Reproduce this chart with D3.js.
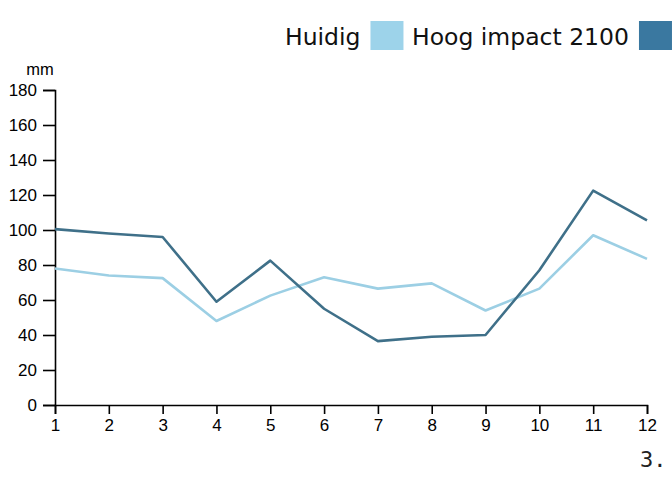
<!DOCTYPE html>
<html><head><meta charset="utf-8">
<script src="https://cdn.jsdelivr.net/npm/d3@7"></script>
<style>body{margin:0;background:#fff}svg{display:block}</style>
</head><body>
<svg id="c" width="672" height="478"></svg>
<script>
const months = [1,2,3,4,5,6,7,8,9,10,11,12];
const huidig = [78,74,72.5,48,62.5,73,66.5,69.5,54,66.5,97,83.5];
const hoog2100 = [100.5,98,96,59,82.5,55,36.5,39,40,77,122.5,105.5];
const yTicks = [0,20,40,60,80,100,120,140,160,180];
const seriesNames = ["Huidig","Hoog impact 2100"];
const unitLabel = "mm";
const pageLabel = "3.";

const svg = d3.select("#c");
const x = d3.scaleLinear().domain([1,12]).range([55,647]);
const y = d3.scaleLinear().domain([0,180]).range([405,90]);

const yAxis = svg.append("g").attr("transform","translate(55,0)")
  .call(d3.axisLeft(y).tickValues(yTicks).tickSize(12).tickPadding(6));
const xAxis = svg.append("g").attr("transform","translate(0,405)")
  .call(d3.axisBottom(x).tickValues(months).tickSize(9).tickPadding(5));
[yAxis,xAxis].forEach(g=>{
  g.selectAll("path,line").attr("stroke","#000").attr("stroke-width",1.6);
  g.selectAll("text").attr("font-family","'Liberation Sans',Arial,sans-serif").attr("font-size",17).attr("fill","#000");
});

svg.append("text").attr("x",40).attr("y",75).attr("text-anchor","middle")
  .attr("font-family","'Liberation Sans',Arial,sans-serif").attr("font-size",16.5).text(unitLabel);

const line = d3.line().x((d,i)=>x(months[i])).y(d=>y(d));
svg.append("path").datum(huidig).attr("d",line).attr("fill","none")
  .attr("stroke","#9ccfe4").attr("stroke-width",2.6).attr("stroke-linejoin","round");
svg.append("path").datum(hoog2100).attr("d",line).attr("fill","none")
  .attr("stroke","#3f7089").attr("stroke-width",2.6).attr("stroke-linejoin","round");

const swatchColors = ["#9dd3ea","#3a78a0"];
const legendX = [285, 412];
seriesNames.forEach((n,i)=>{
  const t = svg.append("text").attr("x",legendX[i]).attr("y",45)
    .attr("font-family","'DejaVu Sans',Verdana,sans-serif").attr("font-size",23.5).attr("fill","#111").text(n);
  const w = t.node().getComputedTextLength();
  const sx = legendX[i] + w + 10;
  svg.append("rect").attr("x",sx).attr("y",21).attr("width",33).attr("height",29).attr("fill",swatchColors[i]);
});

svg.append("text").attr("x",640).attr("y",467)
  .attr("font-family","'DejaVu Sans Mono',monospace").attr("font-size",22).attr("fill","#222").text(pageLabel);
</script>
</body></html>
